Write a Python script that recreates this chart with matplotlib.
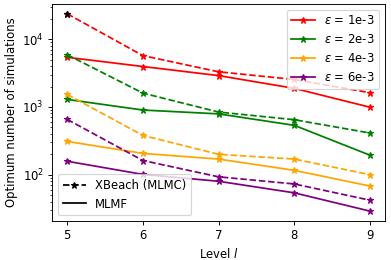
import matplotlib
matplotlib.use("Agg")
import matplotlib.pyplot as plt
from matplotlib.lines import Line2D

levels = [5, 6, 7, 8, 9]
eps_labels = ['1e-3', '2e-3', '4e-3', '6e-3']
colors = ['red', 'green', 'orange', 'purple']

# XBeach (MLMC) optimum samples per level
mlmc = [
    [23700, 5720, 3300, 2540, 1620],
    [5900, 1600, 840, 648, 412],
    [1530, 380, 200, 170, 100],
    [655, 162, 93, 73, 42],
]
# MLMF optimum samples per level
mlmf = [
    [5400, 3950, 2900, 1880, 990],
    [1290, 900, 790, 535, 194],
    [310, 206, 170, 116, 68],
    [158, 101, 80, 54, 29],
]

dpi = 84
fig, ax = plt.subplots(figsize=(391 / dpi, 260 / dpi), dpi=dpi)
plt.subplots_adjust(left=0.133, right=0.985, bottom=0.15, top=0.985)

for c, lab, y1, y2 in zip(colors, eps_labels, mlmc, mlmf):
    ax.plot(levels, y1, '--*', color=c)
    ax.plot(levels, y2, '-*', color=c, label=r'$\varepsilon$ = ' + lab)

# black marker used for the legend entry
ax.plot(levels[0], mlmc[0][0], 'k--*')

ax.set_yscale('log')
ax.set_xticks(levels)
ax.set_xlabel('Level $l$')
ax.set_ylabel('Optimum number of simulations')

leg1 = ax.legend(loc='upper right')
ax.add_artist(leg1)
handles = [Line2D([], [], color='k', ls='--', marker='*'),
           Line2D([], [], color='k', ls='-')]
ax.legend(handles, ['XBeach (MLMC)', 'MLMF'], loc='lower left')

plt.savefig('out.png', dpi=dpi)
